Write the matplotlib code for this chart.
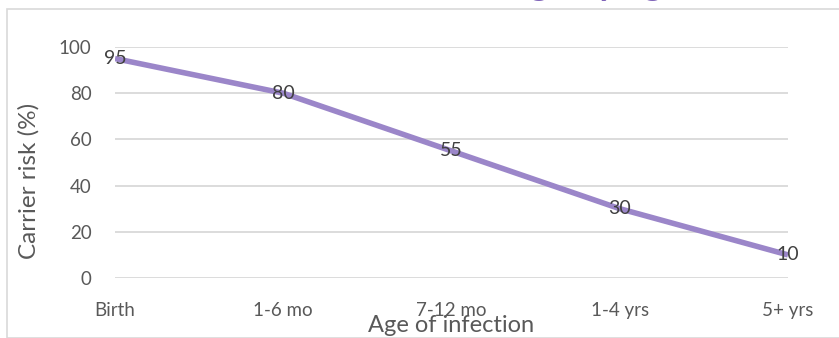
import matplotlib.pyplot as plt
from matplotlib.patches import Rectangle

# --- Datos ---
ages = ["Birth", "1-6 mo", "7-12 mo", "1-4 yrs", "5+ yrs"]
carrier_risk = [95, 80, 55, 30, 10]
y_ticks = [0, 20, 40, 60, 80, 100]

line_color = "#9B86C9"
grid_color = "#D9D9D9"
text_color = "#595959"

plt.rcParams["font.family"] = ["Lato", "DejaVu Sans"]

W, H = 839, 338
fig = plt.figure(figsize=(W / 100, H / 100), dpi=100)

# marco del gráfico
fig.patches.append(Rectangle((7 / W, 0), 1, 1 - 9 / H, transform=fig.transFigure,
                             fill=False, edgecolor=grid_color, linewidth=1.2))

# título, casi fuera del lienzo
fig.text(0.588, 1 + 5 / H, "Chronic carriage by age", color="#7F63B8",
         fontsize=26, fontweight="bold", ha="center", va="baseline")

ax = fig.add_axes([115 / W, 1 - 278 / H, (788 - 115) / W, (278 - 47) / H])
x = list(range(len(ages)))
ax.plot(x, carrier_risk, color=line_color, linewidth=4, solid_capstyle="butt", zorder=3)

for xi, v in zip(x, carrier_risk):
    ax.text(xi, v, str(v), ha="center", va="center", fontsize=14,
            color="#404040", zorder=4)

ax.set_xlim(0, len(ages) - 1)
ax.set_ylim(0, 100)
ax.set_yticks(y_ticks)
ax.set_xticks(x)
ax.set_xticklabels(ages)
ax.tick_params(length=0, labelsize=13.5, labelcolor=text_color)
ax.tick_params(axis="y", pad=17)
ax.tick_params(axis="x", pad=17)
for s in ax.spines.values():
    s.set_visible(False)
ax.grid(axis="y", color=grid_color, linewidth=1.3)
ax.set_axisbelow(True)

ax.set_ylabel("Carrier risk (%)", fontsize=17.5, color=text_color)
ax.yaxis.set_label_coords(-75 / (788 - 115), 0.42)
ax.set_xlabel("Age of infection", fontsize=17, color=text_color)
ax.xaxis.set_label_coords(0.5, -37 / (278 - 47))

fig.savefig("out.png", dpi=100)
